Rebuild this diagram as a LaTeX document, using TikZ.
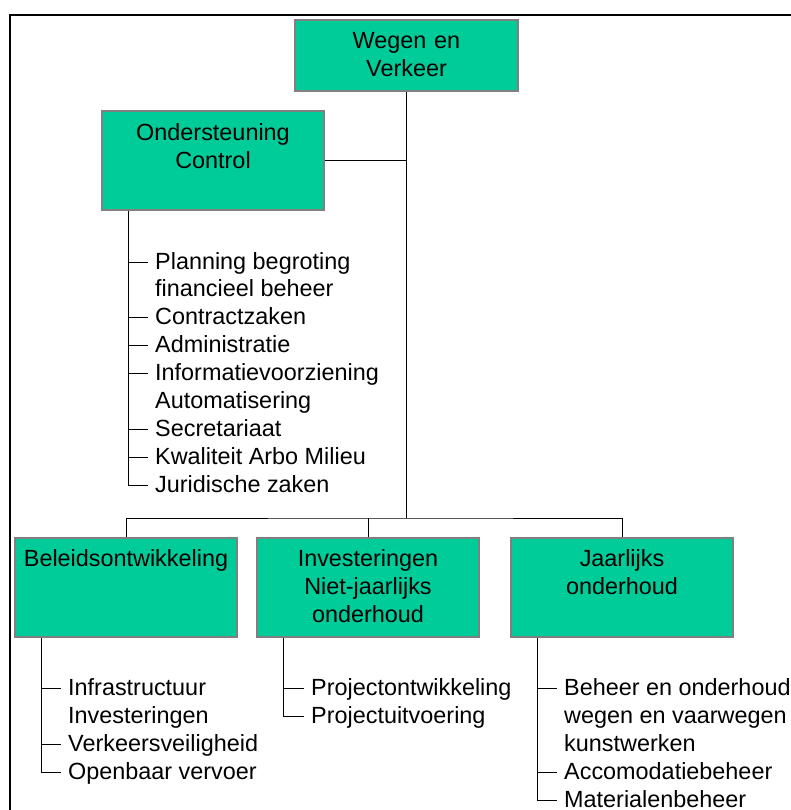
\documentclass[tikz,border=0pt]{standalone}
\usepackage{fontspec}
\setmainfont{Liberation Sans}
\usepackage{xcolor}
\definecolor{unitgreen}{RGB}{0,204,153}

\begin{document}
\begin{tikzpicture}[x=1pt, y=-1pt,
  unit/.style={draw=gray, line width=1.2pt, fill=unitgreen, inner sep=0pt, minimum width=222pt, minimum height=99pt},
  unittext/.style={anchor=base, align=center, text width=220pt, inner sep=0pt, font=\fontsize{23.4}{28}\selectfont},
  item/.style={anchor=west, inner xsep=7pt, inner ysep=0pt, text height=18.7pt, text depth=4.7pt, font=\fontsize{23.4}{28}\selectfont},
  link/.style={line width=1pt}]

\useasboundingbox (0,0) rectangle (791,810);
\draw[line width=1.7pt] (10.3,810) -- (10.3,15.2) -- (791,15.2);

\node[unit, minimum width=223pt, minimum height=71pt] (wv) at (406.5,55.5) {};
\node[unit] (oc) at (213,160.5) {};
\node[unit] (bo) at (126,587.5) {};
\node[unit] (inv) at (368,587.5) {};
\node[unit] (jo) at (622,587.5) {};

\node[unittext] (wv-t) at ([yshift=-29pt]wv.north) {Wegen en\\Verkeer};
\node[unittext] (oc-t) at ([yshift=-30pt]oc.north) {Ondersteuning\\Control};
\node[unittext] (bo-t) at ([yshift=-29pt]bo.north) {Beleidsontwikkeling};
\node[unittext] (inv-t) at ([yshift=-29pt]inv.north) {Investeringen\\Niet-jaarlijks\\onderhoud};
\node[unittext] (jo-t) at ([yshift=-29pt]jo.north) {Jaarlijks\\onderhoud};

\coordinate (bus) at (406.5,518);
\draw[link] (wv) -- (bus);
\draw[link] (oc) -- (oc -| bus);
\draw[link] (bo) |- (bus) -| (jo);
\draw[link] (inv) -- (inv |- bus);

\foreach \txt [count=\i from 0] in {Planning begroting, financieel beheer, Contractzaken, Administratie, Informatievoorziening, Automatisering, Secretariaat, Kwaliteit Arbo Milieu, Juridische zaken}
  \node[item] (oc-\i) at (148,262+27.9*\i) {\txt};
\foreach \txt [count=\i from 0] in {Infrastructuur, Investeringen, Verkeersveiligheid, Openbaar vervoer}
  \node[item] (bo-\i) at (61,688.3+28.1*\i) {\txt};
\foreach \txt [count=\i from 0] in {Projectontwikkeling, Projectuitvoering}
  \node[item] (inv-\i) at (304,688.3+28*\i) {\txt};
\foreach \txt [count=\i from 0] in {Beheer en onderhoud, wegen en vaarwegen, kunstwerken, Accomodatiebeheer, Materialenbeheer}
  \node[item] (jo-\i) at (557,688+28*\i) {\txt};

\coordinate (oc-sp) at ([xshift=27pt]oc.south west);
\coordinate (bo-sp) at ([xshift=27pt]bo.south west);
\coordinate (inv-sp) at ([xshift=27pt]inv.south west);
\coordinate (jo-sp) at ([xshift=27pt]jo.south west);

\draw[link] (oc-sp) |- (oc-8.west);
\foreach \i in {0,2,3,4,6,7}
  \draw[link] (oc-sp |- oc-\i.west) -- (oc-\i.west);
\draw[link] (bo-sp) |- (bo-3.west);
\foreach \i in {0,2}
  \draw[link] (bo-sp |- bo-\i.west) -- (bo-\i.west);
\draw[link] (inv-sp) |- (inv-1.west);
\draw[link] (inv-sp |- inv-0.west) -- (inv-0.west);
\draw[link] (jo-sp) |- (jo-4.west);
\foreach \i in {0,3}
  \draw[link] (jo-sp |- jo-\i.west) -- (jo-\i.west);

\end{tikzpicture}
\end{document}
